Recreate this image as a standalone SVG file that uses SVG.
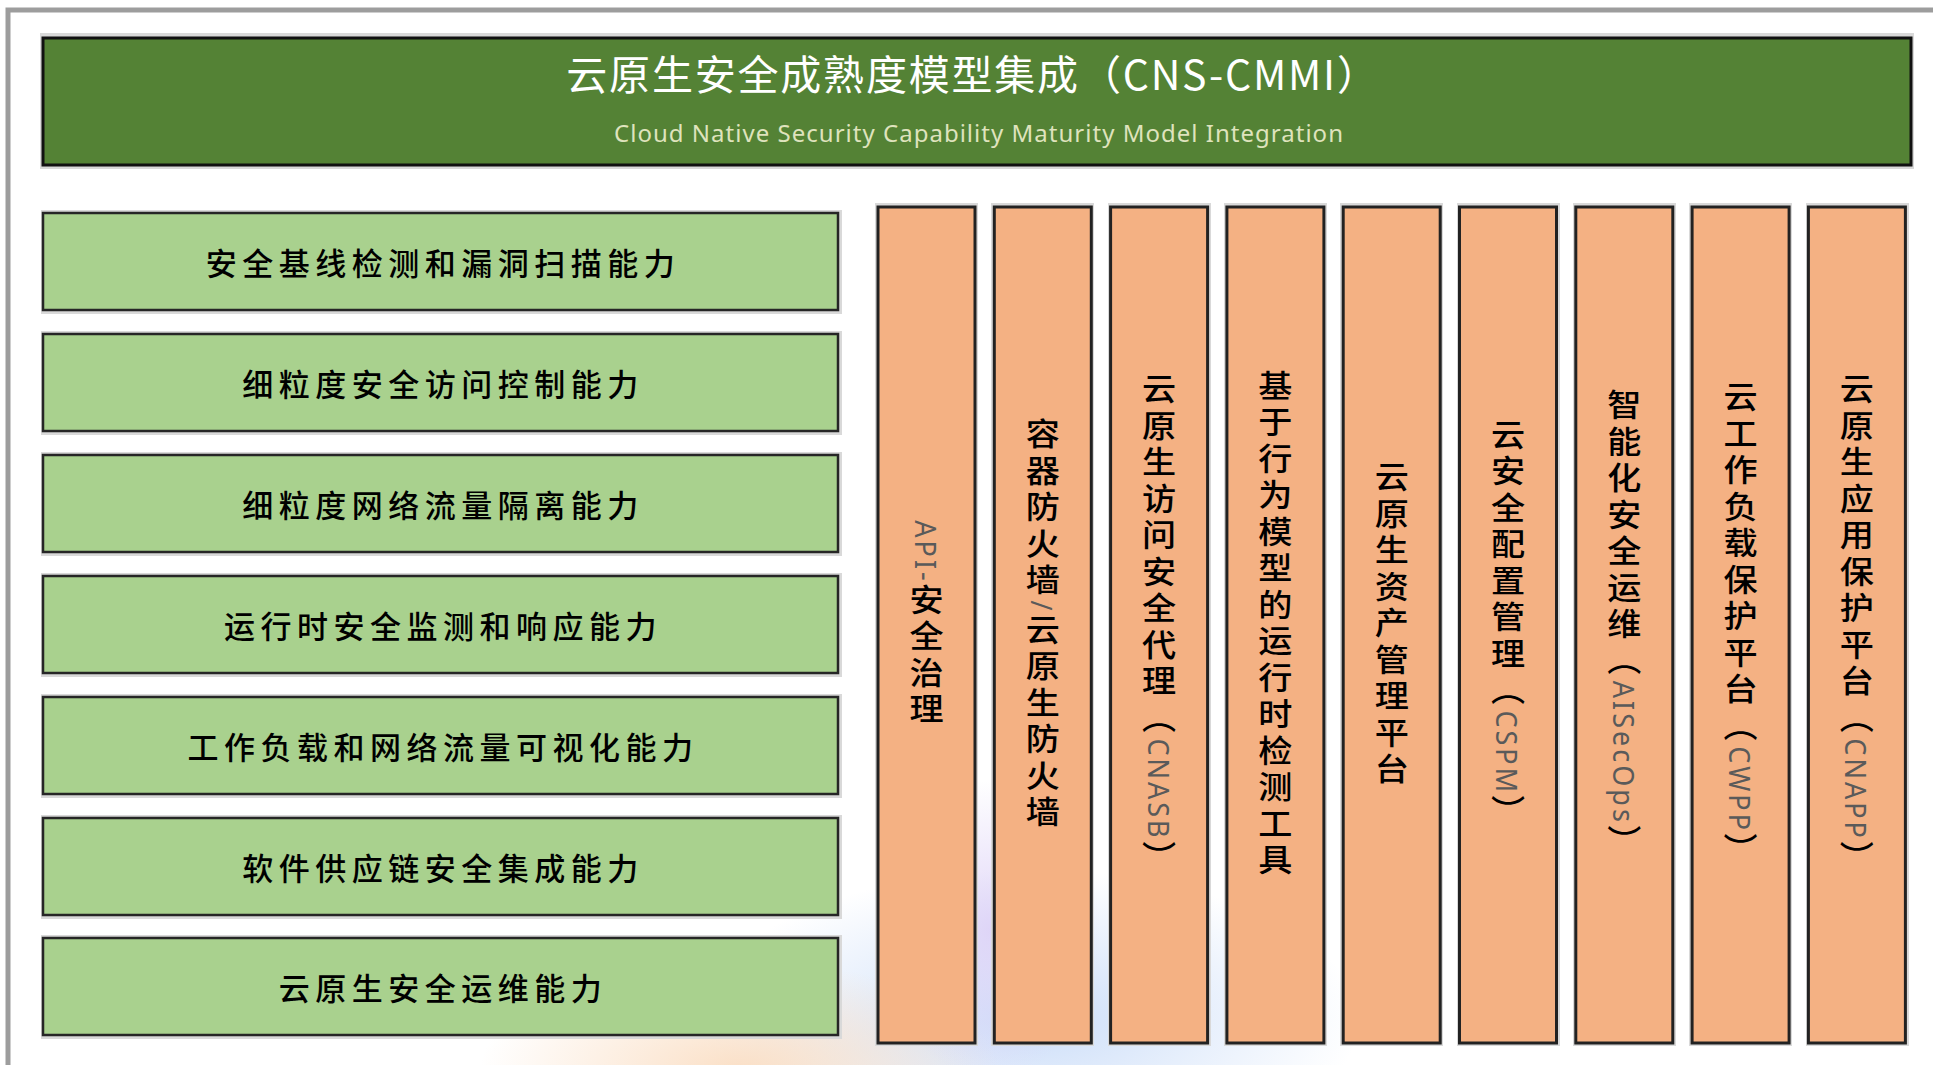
<svg xmlns="http://www.w3.org/2000/svg" width="1933" height="1065" viewBox="0 0 1933 1065">
<style>
.frame{fill:none;stroke:#9d9d9d;stroke-width:5}
.shadow{fill:#d9d9d9}
.hdr{fill:#548235;stroke:#111;stroke-width:3}
.cap{fill:#a9d18e;stroke:#262626;stroke-width:2.5}
.col{fill:#f4b183;stroke:#222;stroke-width:3}
.t1{font-family:"Noto Sans CJK SC","Noto Sans",sans-serif;font-size:41px;fill:#ffffff;letter-spacing:1.8px}
.t2{font-family:"Noto Sans","Liberation Sans",sans-serif;font-size:24px;fill:#dfe3bd}
.ct{font-family:"Noto Sans CJK SC",sans-serif;font-size:31px;font-weight:500;fill:#000;letter-spacing:5.5px;text-anchor:middle}
.vt{font-family:"Noto Sans CJK SC",sans-serif;font-size:31px;font-weight:500;fill:#000;letter-spacing:5.5px;text-anchor:middle;writing-mode:vertical-rl}
.lat{font-family:"Noto Sans",sans-serif;font-size:27px;font-weight:400;fill:#5a5a5a;letter-spacing:3px}
</style>
<defs>
<radialGradient id="gB"><stop offset="0" stop-color="#c6daf8" stop-opacity="0.9"/><stop offset="1" stop-color="#c6daf8" stop-opacity="0"/></radialGradient>
<radialGradient id="gO"><stop offset="0" stop-color="#fadcc0" stop-opacity="0.9"/><stop offset="1" stop-color="#fadcc0" stop-opacity="0"/></radialGradient>
<radialGradient id="gP"><stop offset="0" stop-color="#ddd2f7" stop-opacity="0.9"/><stop offset="1" stop-color="#ddd2f7" stop-opacity="0"/></radialGradient>
</defs>
<rect width="1933" height="1065" fill="#ffffff"/>
<g id="glow">
<ellipse cx="1030" cy="1020" rx="330" ry="150" fill="url(#gB)"/>
<ellipse cx="740" cy="1070" rx="260" ry="110" fill="url(#gO)"/>
<ellipse cx="990" cy="930" rx="110" ry="150" fill="url(#gP)"/>
</g>
<path class="frame" d="M8,1065 V10 H1933"/>

<g id="header">
<rect class="shadow" x="40" y="33" width="1874" height="136"/>
<rect class="hdr" x="43" y="38" width="1868" height="127"/>
<text class="t1" x="973" y="90" text-anchor="middle">云原生安全成熟度模型集成（CNS-CMMI）</text>
<text class="t2" x="614" y="142" textLength="729" lengthAdjust="spacing">Cloud Native Security Capability Maturity Model Integration</text>
</g>

<g id="cap1"><rect class="shadow" x="41" y="210" width="801" height="104"/><rect class="cap" x="43" y="213" width="795" height="97"/><text class="ct" x="443" y="275">安全基线检测和漏洞扫描能力</text></g>
<g id="cap2"><rect class="shadow" x="41" y="331" width="801" height="104"/><rect class="cap" x="43" y="334" width="795" height="97"/><text class="ct" x="443" y="396">细粒度安全访问控制能力</text></g>
<g id="cap3"><rect class="shadow" x="41" y="452" width="801" height="104"/><rect class="cap" x="43" y="455" width="795" height="97"/><text class="ct" x="443" y="517">细粒度网络流量隔离能力</text></g>
<g id="cap4"><rect class="shadow" x="41" y="573" width="801" height="104"/><rect class="cap" x="43" y="576" width="795" height="97"/><text class="ct" x="443" y="638">运行时安全监测和响应能力</text></g>
<g id="cap5"><rect class="shadow" x="41" y="694" width="801" height="104"/><rect class="cap" x="43" y="697" width="795" height="97"/><text class="ct" x="443" y="759">工作负载和网络流量可视化能力</text></g>
<g id="cap6"><rect class="shadow" x="41" y="815" width="801" height="104"/><rect class="cap" x="43" y="818" width="795" height="97"/><text class="ct" x="443" y="880">软件供应链安全集成能力</text></g>
<g id="cap7"><rect class="shadow" x="41" y="935" width="801" height="104"/><rect class="cap" x="43" y="938" width="795" height="97"/><text class="ct" x="443" y="1000">云原生安全运维能力</text></g>

<g id="tool1"><rect class="shadow" x="875" y="203" width="103" height="843"/><rect class="col" x="878" y="207" width="97" height="836"/><g transform="translate(926.5,625) scale(1.1,1)"><text class="vt" x="0" y="0"><tspan class="lat">API-</tspan>安全治理</text></g></g>
<g id="tool2"><rect class="shadow" x="991" y="203" width="103" height="843"/><rect class="col" x="994.3" y="207" width="97" height="836"/><g transform="translate(1042.8,625) scale(1.1,1)"><text class="vt" x="0" y="0">容器防火墙<tspan class="lat">/</tspan>云原生防火墙</text></g></g>
<g id="tool3"><rect class="shadow" x="1108" y="203" width="103" height="843"/><rect class="col" x="1110.6" y="207" width="97" height="836"/><g transform="translate(1159.1,625) scale(1.1,1)"><text class="vt" x="0" y="0">云原生访问安全代理（<tspan class="lat">CNASB</tspan>）</text></g></g>
<g id="tool4"><rect class="shadow" x="1224" y="203" width="103" height="843"/><rect class="col" x="1226.9" y="207" width="97" height="836"/><g transform="translate(1275.4,625) scale(1.1,1)"><text class="vt" x="0" y="0">基于行为模型的运行时检测工具</text></g></g>
<g id="tool5"><rect class="shadow" x="1340" y="203" width="103" height="843"/><rect class="col" x="1343.2" y="207" width="97" height="836"/><g transform="translate(1391.7,625) scale(1.1,1)"><text class="vt" x="0" y="0">云原生资产管理平台</text></g></g>
<g id="tool6"><rect class="shadow" x="1457" y="203" width="103" height="843"/><rect class="col" x="1459.5" y="207" width="97" height="836"/><g transform="translate(1508,625) scale(1.1,1)"><text class="vt" x="0" y="0">云安全配置管理（<tspan class="lat">CSPM</tspan>）</text></g></g>
<g id="tool7"><rect class="shadow" x="1573" y="203" width="103" height="843"/><rect class="col" x="1575.8" y="207" width="97" height="836"/><g transform="translate(1624.3,625) scale(1.1,1)"><text class="vt" x="0" y="0">智能化安全运维（<tspan class="lat">AISecOps</tspan>）</text></g></g>
<g id="tool8"><rect class="shadow" x="1689" y="203" width="103" height="843"/><rect class="col" x="1692.1" y="207" width="97" height="836"/><g transform="translate(1740.6,625) scale(1.1,1)"><text class="vt" x="0" y="0">云工作负载保护平台（<tspan class="lat">CWPP</tspan>）</text></g></g>
<g id="tool9"><rect class="shadow" x="1806" y="203" width="103" height="843"/><rect class="col" x="1808.4" y="207" width="97" height="836"/><g transform="translate(1856.9,625) scale(1.1,1)"><text class="vt" x="0" y="0">云原生应用保护平台（<tspan class="lat">CNAPP</tspan>）</text></g></g>

<g id="connectors"></g>
</svg>
